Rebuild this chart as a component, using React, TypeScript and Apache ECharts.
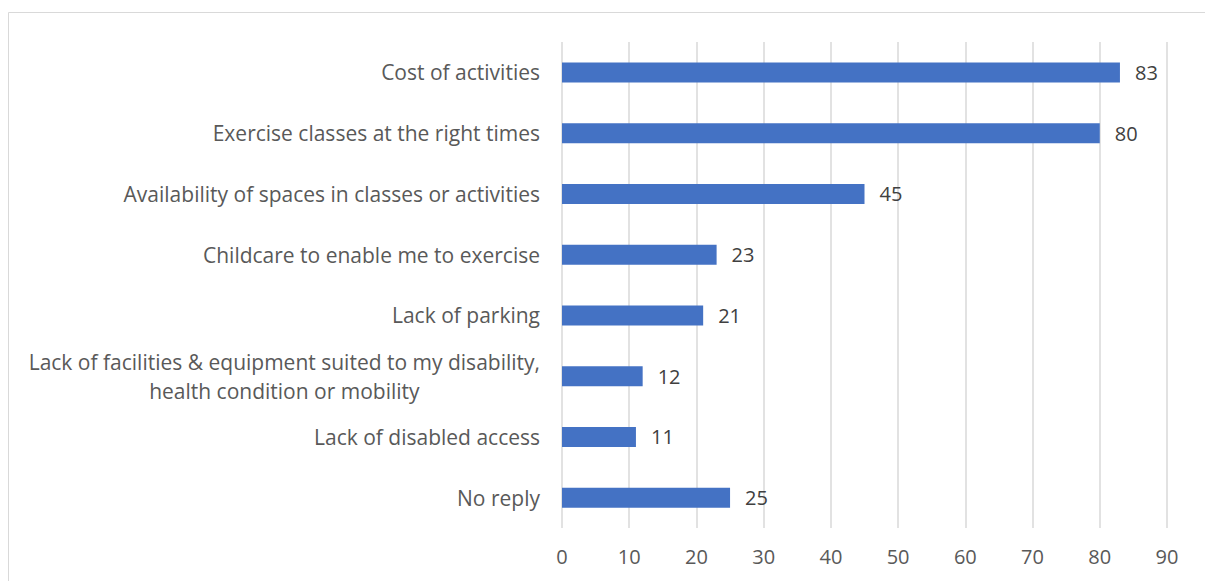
import React, { useEffect, useRef } from "react";
import * as echarts from "echarts";

const categories = [
  "Cost of activities",
  "Exercise classes at the right times",
  "Availability of spaces in classes or activities",
  "Childcare to enable me to exercise",
  "Lack of parking",
  "Lack of facilities & equipment suited to my disability,\nhealth condition or mobility",
  "Lack of disabled access",
  "No reply",
];
const values = [83, 80, 45, 23, 21, 12, 11, 25];
const xTicks = { min: 0, max: 90, interval: 10 };

const FONT = "'Open Sans', Lato, sans-serif";
const FS = 21;
const NFS = 20;

export default function App() {
  const ref = useRef<HTMLDivElement>(null);
  useEffect(() => {
    if (!ref.current) return;
    const chart = echarts.init(ref.current, null, { renderer: "svg" });
    chart.setOption({
      animation: false,
      graphic: [
        {
          type: "rect",
          shape: { x: 8.5, y: 12.5, width: 1400, height: 800 },
          style: { fill: "none", stroke: "#d9d9d9", lineWidth: 1 },
          silent: true,
        },
      ],
      grid: { left: 562, right: 38, top: 42, bottom: 53, containLabel: false },
      xAxis: {
        type: "value",
        min: xTicks.min,
        max: xTicks.max,
        interval: xTicks.interval,
        axisLine: { show: false },
        axisTick: { show: false },
        splitLine: { show: true, lineStyle: { color: "#d9d9d9", width: 1.5 } },
        axisLabel: { color: "#595959", fontSize: NFS, fontFamily: FONT, margin: 18 },
      },
      yAxis: {
        type: "category",
        inverse: true,
        data: categories,
        axisLine: { show: false },
        axisTick: { show: false },
        axisLabel: {
          color: "#595959",
          fontSize: FS,
          fontFamily: FONT,
          margin: 22,
          align: "right",
          lineHeight: 29,
          formatter: (v: string) => {
            const lines = v.split("\n");
            if (lines.length === 1) return v;
            return lines.map((l, i) => (i === 0 ? `{a|${l}}` : `{c|${l}}`)).join("\n");
          },
          rich: {
            a: { color: "#595959", fontSize: FS, fontFamily: FONT, lineHeight: 29, align: "right" },
            c: { color: "#595959", fontSize: FS, fontFamily: FONT, lineHeight: 29, align: "center" },
          },
        },
      },
      series: [
        {
          type: "bar",
          data: values,
          barWidth: 20,
          itemStyle: { color: "#4472C4" },
          label: {
            show: true,
            position: "right",
            distance: 15,
            color: "#404040",
            fontSize: NFS,
            fontFamily: FONT,
          },
        },
      ],
    });
    return () => chart.dispose();
  }, []);
  return (
    <div
      ref={ref}
      style={{ position: "fixed", left: 0, top: 0, width: 1205, height: 581, background: "#fff" }}
    />
  );
}
